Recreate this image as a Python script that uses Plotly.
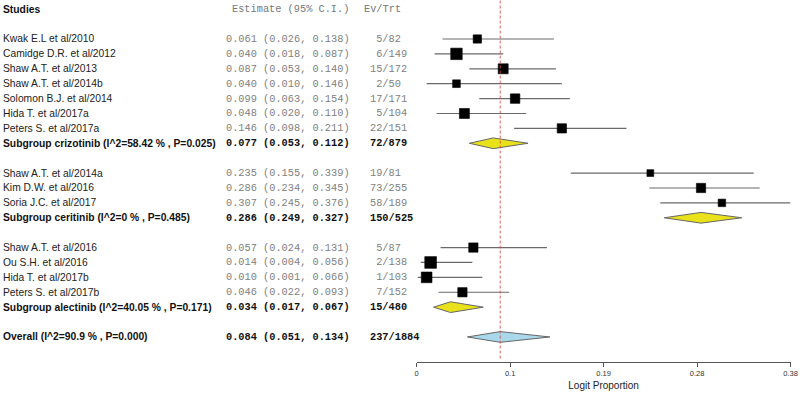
import plotly.graph_objects as go

# ---------------- data ----------------
study_names = [
    "Kwak E.L et al/2010", "Camidge D.R. et al/2012", "Shaw A.T. et al/2013",
    "Shaw A.T. et al/2014b", "Solomon B.J. et al/2014", "Hida T. et al/2017a",
    "Peters S. et al/2017a",
    "Shaw A.T. et al/2014a", "Kim D.W. et al/2016", "Soria J.C. et al/2017",
    "Shaw A.T. et al/2016", "Ou S.H. et al/2016", "Hida T. et al/2017b",
    "Peters S. et al/2017b",
]
study_group = ["crizotinib"] * 7 + ["ceritinib"] * 3 + ["alectinib"] * 4
study_est = [0.061, 0.040, 0.087, 0.040, 0.099, 0.048, 0.146,
             0.235, 0.286, 0.307,
             0.057, 0.014, 0.010, 0.046]
study_lo = [0.026, 0.018, 0.053, 0.010, 0.063, 0.020, 0.098,
            0.155, 0.234, 0.245,
            0.024, 0.004, 0.001, 0.022]
study_hi = [0.138, 0.087, 0.140, 0.146, 0.154, 0.110, 0.211,
            0.339, 0.345, 0.376,
            0.131, 0.056, 0.066, 0.093]
study_events = [5, 6, 15, 2, 17, 5, 22, 19, 73, 58, 5, 2, 1, 7]
study_totals = [82, 149, 172, 50, 171, 104, 151, 81, 255, 189, 87, 138, 103, 152]
# relative study weights (box size)
study_weight = [8.3, 11.5, 10.0, 7.7, 9.5, 10.0, 9.3,
                6.8, 9.3, 7.5,
                9.3, 11.7, 10.7, 9.3]

groups = ["crizotinib", "ceritinib", "alectinib"]
sub_labels = [
    "Subgroup crizotinib (I^2=58.42 % , P=0.025)",
    "Subgroup ceritinib (I^2=0 % , P=0.485)",
    "Subgroup alectinib (I^2=40.05 % , P=0.171)",
]
sub_est = [0.077, 0.286, 0.034]
sub_lo = [0.053, 0.249, 0.017]
sub_hi = [0.112, 0.327, 0.067]
sub_events = [72, 150, 15]
sub_totals = [879, 525, 480]

overall_label = "Overall (I^2=90.9 % , P=0.000)"
overall_est = 0.084
overall_lo = 0.051
overall_hi = 0.134
overall_events = 237
overall_totals = 1884

tick_vals = [0, 0.094, 0.188, 0.282, 0.376]
tick_text = ["0", "0.1", "0.19", "0.28", "0.38"]
x_title = "Logit Proportion"
headers = ["Studies", "Estimate (95% C.I.)", "Ev/Trt"]

# ---------------- styles ----------------
W, H = 800, 393
SANS = "Liberation Sans, Arial, sans-serif"
MONO = "Liberation Mono, Courier New, monospace"
FS = 10.3
COL_NAME = 1
COL_EST = 224
COL_EST_HDR = 230
COL_EV = 368
COL_EV_HDR = 362
DIAMOND_HALF = 0.36
NBSP = "\u00a0"


def fmt_ci(e, l, h):
    return f"{e:.3f} ({l:.3f}, {h:.3f})"


def fmt_ev(e, t):
    return f"{e:>2}/{t}".replace(" ", NBSP)


# ---------------- layout of rows ----------------
rows = []          # (kind, index, row)
r = 1
for gi, g in enumerate(groups):
    for si, sg in enumerate(study_group):
        if sg == g:
            rows.append(("study", si, r))
            r += 1
    rows.append(("sub", gi, r))
    r += 2
rows.append(("overall", 0, r))

fig = go.Figure()
annotations = []


def add_text(x_px, y, text, family, color, bold=False):
    annotations.append(dict(
        x=x_px / W, xref="paper", y=y, yref="y",
        text=f"<b>{text}</b>" if bold else text,
        showarrow=False, xanchor="left", yanchor="middle",
        font=dict(family=family, size=FS, color=color),
    ))


# headers
add_text(COL_NAME, -1, headers[0], SANS, "#111", bold=True)
add_text(COL_EST_HDR, -1, headers[1], MONO, "#777")
add_text(COL_EV_HDR, -1, headers[2], MONO, "#777")

wx, wy = [], []
sq_x, sq_y, sq_s = [], [], []
for kind, i, row in rows:
    if kind == "study":
        add_text(COL_NAME, row, study_names[i], SANS, "#222")
        add_text(COL_EST, row, fmt_ci(study_est[i], study_lo[i], study_hi[i]), MONO, "#808080")
        add_text(COL_EV, row, fmt_ev(study_events[i], study_totals[i]), MONO, "#808080")
        wx += [study_lo[i], study_hi[i], None]
        wy += [row, row, None]
        sq_x.append(study_est[i])
        sq_y.append(row)
        sq_s.append(study_weight[i])
    else:
        if kind == "sub":
            lab, e, l, h, ev, tt = (sub_labels[i], sub_est[i], sub_lo[i], sub_hi[i],
                                   sub_events[i], sub_totals[i])
            fill = "#E9E21A"
        else:
            lab, e, l, h, ev, tt = (overall_label, overall_est, overall_lo, overall_hi,
                                   overall_events, overall_totals)
            fill = "#A9D8EA"
        add_text(COL_NAME, row, lab, SANS, "#111", bold=True)
        add_text(COL_EST, row, fmt_ci(e, l, h), MONO, "#111", bold=True)
        add_text(COL_EV, row, fmt_ev(ev, tt), MONO, "#111", bold=True)
        fig.add_trace(go.Scatter(
            x=[l, e, h, e, l], y=[row, row - DIAMOND_HALF, row, row + DIAMOND_HALF, row],
            mode="lines", fill="toself", fillcolor=fill,
            line=dict(color="#666", width=1), hoverinfo="skip", showlegend=False,
        ))

fig.add_trace(go.Scatter(x=wx, y=wy, mode="lines",
                         line=dict(color="#6a6a6a", width=1.2),
                         hoverinfo="skip", showlegend=False))
fig.add_trace(go.Scatter(x=sq_x, y=sq_y, mode="markers",
                         marker=dict(symbol="square", size=sq_s, color="#000000",
                                     opacity=1, line=dict(width=0.6, color="#000000")),
                         showlegend=False, cliponaxis=False))

y_bottom_px = 361.7
y_dom0 = (H - y_bottom_px) / H
fig.add_shape(type="line", xref="x", yref="paper", x0=overall_est, x1=overall_est,
              y0=y_dom0 + 0.008, y1=1,
              line=dict(color="rgba(220,70,70,0.85)", width=1, dash="3px,2px"))

fig.update_layout(
    width=W, height=H, margin=dict(l=0, r=0, t=0, b=0, autoexpand=False),
    paper_bgcolor="white", plot_bgcolor="white",
    annotations=annotations, showlegend=False,
    xaxis=dict(domain=[416.7 / W, 790.5 / W], range=[0, 0.376], automargin=False,
               tickvals=tick_vals, ticktext=tick_text,
               ticks="outside", ticklen=4, tickcolor="#555", tickwidth=1,
               showline=True, linecolor="#555", linewidth=1,
               showgrid=False, zeroline=False,
               tickfont=dict(family=SANS, size=7.5, color="#333"),
               title=dict(text=x_title, font=dict(family=SANS, size=10, color="#222"),
                          standoff=5)),
    yaxis=dict(domain=[y_dom0, 1], range=[22.66, -1.617], visible=False,
               automargin=False, showgrid=False, zeroline=False),
)

fig.write_html("out.html", config={"displayModeBar": False},
               post_script="document.body.style.margin='0';document.body.style.overflow='hidden';")
